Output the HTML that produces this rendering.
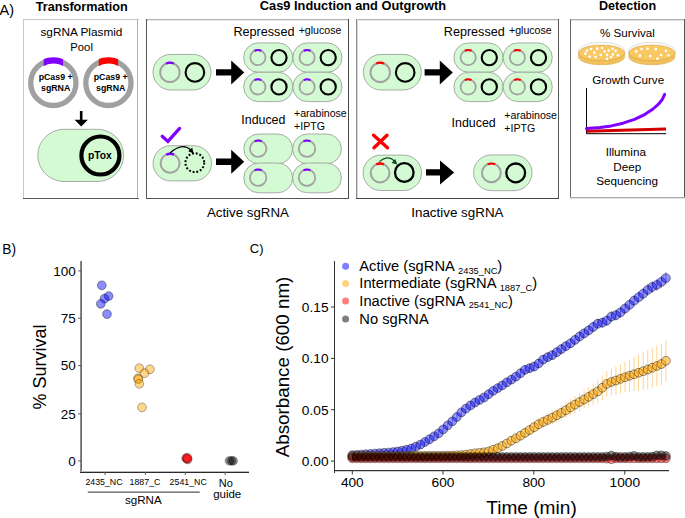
<!DOCTYPE html><html><head><meta charset="utf-8"><style>html,body{margin:0;padding:0;background:#fff;}svg{display:block;}</style></head><body><svg width="685" height="518" viewBox="0 0 685 518" font-family='"Liberation Sans", sans-serif'>
<rect x="0" y="0" width="685" height="518" fill="#fff"/>
<text x="-0.50" y="14.80" font-size="14.5" text-anchor="start" font-weight="normal" fill="#000" >A)</text>
<text x="81.70" y="10.50" font-size="12.65" text-anchor="middle" font-weight="bold" fill="#000" >Transformation</text>
<text x="353.00" y="9.60" font-size="12.8" text-anchor="middle" font-weight="bold" fill="#000" >Cas9 Induction and Outgrowth</text>
<text x="627.60" y="10.00" font-size="12.55" text-anchor="middle" font-weight="bold" fill="#000" >Detection</text>
<rect x="23" y="19" width="116" height="1" fill="#c8c8c8" shape-rendering="crispEdges"/>
<rect x="23" y="19" width="1" height="180" fill="#c8c8c8" shape-rendering="crispEdges"/>
<rect x="137" y="19" width="1" height="180" fill="#b0b0b0" shape-rendering="crispEdges"/>
<rect x="23" y="198" width="116" height="1" fill="#5a5a5a" shape-rendering="crispEdges"/>
<rect x="146" y="19" width="203" height="1" fill="#b4b4b4" shape-rendering="crispEdges"/>
<rect x="146" y="20" width="203" height="1" fill="#e8e8e8" shape-rendering="crispEdges"/>
<rect x="146" y="19" width="1" height="180" fill="#555" shape-rendering="crispEdges"/>
<rect x="348" y="19" width="1" height="180" fill="#454545" shape-rendering="crispEdges"/>
<rect x="146" y="198" width="203" height="1" fill="#555" shape-rendering="crispEdges"/>
<rect x="356" y="19" width="203" height="1" fill="#b4b4b4" shape-rendering="crispEdges"/>
<rect x="356" y="20" width="203" height="1" fill="#e8e8e8" shape-rendering="crispEdges"/>
<rect x="356" y="19" width="1" height="180" fill="#8a8a8a" shape-rendering="crispEdges"/>
<rect x="357" y="19" width="1" height="180" fill="#dcdcdc" shape-rendering="crispEdges"/>
<rect x="558" y="19" width="1" height="180" fill="#555" shape-rendering="crispEdges"/>
<rect x="356" y="198" width="203" height="1" fill="#454545" shape-rendering="crispEdges"/>
<rect x="570" y="19" width="115" height="1" fill="#b4b4b4" shape-rendering="crispEdges"/>
<rect x="570" y="20" width="115" height="1" fill="#dedede" shape-rendering="crispEdges"/>
<rect x="570" y="19" width="1" height="179" fill="#666" shape-rendering="crispEdges"/>
<rect x="684" y="19" width="1" height="179" fill="#555" shape-rendering="crispEdges"/>
<rect x="570" y="197" width="115" height="1" fill="#aaa" shape-rendering="crispEdges"/>
<rect x="570" y="198" width="115" height="1" fill="#e0e0e0" shape-rendering="crispEdges"/>
<text x="81.45" y="36.20" font-size="11.8" text-anchor="middle" font-weight="normal" fill="#000" >sgRNA Plasmid</text>
<text x="81.60" y="51.30" font-size="11.3" text-anchor="middle" font-weight="normal" fill="#000" >Pool</text>
<circle cx="53.35" cy="82.90" r="22.60" fill="none" stroke="#a0a0a0" stroke-width="5.3" />
<clipPath id="c53"><rect x="43.75" y="52.90" width="19.3" height="20"/></clipPath>
<circle cx="53.35" cy="82.90" r="22.5" fill="none" stroke="#7f00ff" stroke-width="6.4" clip-path="url(#c53)"/>
<text x="55.65" y="80.10" font-size="8.8" text-anchor="middle" font-weight="bold" fill="#000" >pCas9 +</text>
<text x="55.65" y="90.80" font-size="8.8" text-anchor="middle" font-weight="bold" fill="#000" >sgRNA</text>
<circle cx="108.40" cy="82.90" r="22.60" fill="none" stroke="#a0a0a0" stroke-width="5.3" />
<clipPath id="c108"><rect x="98.80" y="52.90" width="19.3" height="20"/></clipPath>
<circle cx="108.40" cy="82.90" r="22.5" fill="none" stroke="#ff0000" stroke-width="6.4" clip-path="url(#c108)"/>
<text x="110.70" y="80.10" font-size="8.8" text-anchor="middle" font-weight="bold" fill="#000" >pCas9 +</text>
<text x="110.70" y="90.80" font-size="8.8" text-anchor="middle" font-weight="bold" fill="#000" >sgRNA</text>
<path d="M79.9,111.1 L82.5,111.1 L82.5,119.7 L87.9,119.7 L81.2,126.6 L74.6,119.7 L79.9,119.7 Z" fill="#000"/>
<rect x="37.80" y="129.30" width="85.80" height="52.20" rx="26.10" ry="26.10" fill="#d4fad4" stroke="#8a8a8a" stroke-width="0.7"/>
<circle cx="100.40" cy="155.50" r="19.00" fill="none" stroke="#000" stroke-width="4.2" />
<text x="99.90" y="158.60" font-size="10.3" text-anchor="middle" font-weight="bold" fill="#000" >pTox</text>
<rect x="153.00" y="54.40" width="58.00" height="35.60" rx="17.80" ry="17.80" fill="#d4fad4" stroke="#8a8a8a" stroke-width="0.7"/>
<circle cx="169.90" cy="72.40" r="9.70" fill="none" stroke="#a2a2a2" stroke-width="2.0" />
<path d="M165.95,63.54 A9.70,9.70 0 0 1 173.85,63.54" fill="none" stroke="#7f00ff" stroke-width="2.1" stroke-linecap="butt"/>
<circle cx="194.90" cy="72.40" r="9.30" fill="none" stroke="#000" stroke-width="2.1" />
<path d="M216.00,69.20 L231.20,69.20 L231.20,60.40 L244.20,72.40 L231.20,84.40 L231.20,75.60 L216.00,75.60 Z" fill="#000"/>
<text x="233.50" y="35.50" font-size="12.6" text-anchor="start" font-weight="normal" fill="#000" >Repressed</text>
<text x="298.70" y="34.30" font-size="10.6" text-anchor="start" font-weight="normal" fill="#000" >+glucose</text>
<rect x="243.60" y="42.90" width="49.20" height="29.40" rx="14.70" ry="14.70" fill="#d4fad4" stroke="#8a8a8a" stroke-width="0.7"/>
<circle cx="257.90" cy="57.60" r="7.60" fill="none" stroke="#a2a2a2" stroke-width="1.8" />
<path d="M254.57,50.77 A7.60,7.60 0 0 1 261.23,50.77" fill="none" stroke="#7f00ff" stroke-width="2.1" stroke-linecap="butt"/>
<circle cx="279.00" cy="57.60" r="7.60" fill="none" stroke="#000" stroke-width="2.1" />
<rect x="292.80" y="42.90" width="49.20" height="29.40" rx="14.70" ry="14.70" fill="#d4fad4" stroke="#8a8a8a" stroke-width="0.7"/>
<circle cx="307.10" cy="57.60" r="7.60" fill="none" stroke="#a2a2a2" stroke-width="1.8" />
<path d="M303.77,50.77 A7.60,7.60 0 0 1 310.43,50.77" fill="none" stroke="#7f00ff" stroke-width="2.1" stroke-linecap="butt"/>
<circle cx="328.20" cy="57.60" r="7.60" fill="none" stroke="#000" stroke-width="2.1" />
<rect x="243.60" y="72.20" width="49.20" height="29.40" rx="14.70" ry="14.70" fill="#d4fad4" stroke="#8a8a8a" stroke-width="0.7"/>
<circle cx="257.90" cy="86.90" r="7.60" fill="none" stroke="#a2a2a2" stroke-width="1.8" />
<path d="M254.57,80.07 A7.60,7.60 0 0 1 261.23,80.07" fill="none" stroke="#7f00ff" stroke-width="2.1" stroke-linecap="butt"/>
<circle cx="279.00" cy="86.90" r="7.60" fill="none" stroke="#000" stroke-width="2.1" />
<rect x="292.80" y="72.20" width="49.20" height="29.40" rx="14.70" ry="14.70" fill="#d4fad4" stroke="#8a8a8a" stroke-width="0.7"/>
<circle cx="307.10" cy="86.90" r="7.60" fill="none" stroke="#a2a2a2" stroke-width="1.8" />
<path d="M303.77,80.07 A7.60,7.60 0 0 1 310.43,80.07" fill="none" stroke="#7f00ff" stroke-width="2.1" stroke-linecap="butt"/>
<circle cx="328.20" cy="86.90" r="7.60" fill="none" stroke="#000" stroke-width="2.1" />
<text x="241.30" y="124.00" font-size="12.4" text-anchor="start" font-weight="normal" fill="#000" >Induced</text>
<text x="294.00" y="117.00" font-size="10.6" text-anchor="start" font-weight="normal" fill="#000" >+arabinose</text>
<text x="294.00" y="130.20" font-size="10.6" text-anchor="start" font-weight="normal" fill="#000" >+IPTG</text>
<rect x="363.30" y="54.40" width="58.00" height="35.60" rx="17.80" ry="17.80" fill="#d4fad4" stroke="#8a8a8a" stroke-width="0.7"/>
<circle cx="380.20" cy="72.40" r="9.70" fill="none" stroke="#a2a2a2" stroke-width="2.0" />
<path d="M376.25,63.54 A9.70,9.70 0 0 1 384.15,63.54" fill="none" stroke="#ff0000" stroke-width="2.1" stroke-linecap="butt"/>
<circle cx="405.20" cy="72.40" r="9.30" fill="none" stroke="#000" stroke-width="2.1" />
<path d="M424.60,69.20 L439.80,69.20 L439.80,60.40 L452.80,72.40 L439.80,84.40 L439.80,75.60 L424.60,75.60 Z" fill="#000"/>
<text x="443.80" y="35.50" font-size="12.6" text-anchor="start" font-weight="normal" fill="#000" >Repressed</text>
<text x="509.00" y="34.30" font-size="10.6" text-anchor="start" font-weight="normal" fill="#000" >+glucose</text>
<rect x="453.90" y="42.90" width="49.20" height="29.40" rx="14.70" ry="14.70" fill="#d4fad4" stroke="#8a8a8a" stroke-width="0.7"/>
<circle cx="468.20" cy="57.60" r="7.60" fill="none" stroke="#a2a2a2" stroke-width="1.8" />
<path d="M464.87,50.77 A7.60,7.60 0 0 1 471.53,50.77" fill="none" stroke="#ff0000" stroke-width="2.1" stroke-linecap="butt"/>
<circle cx="489.30" cy="57.60" r="7.60" fill="none" stroke="#000" stroke-width="2.1" />
<rect x="503.10" y="42.90" width="49.20" height="29.40" rx="14.70" ry="14.70" fill="#d4fad4" stroke="#8a8a8a" stroke-width="0.7"/>
<circle cx="517.40" cy="57.60" r="7.60" fill="none" stroke="#a2a2a2" stroke-width="1.8" />
<path d="M514.07,50.77 A7.60,7.60 0 0 1 520.73,50.77" fill="none" stroke="#ff0000" stroke-width="2.1" stroke-linecap="butt"/>
<circle cx="538.50" cy="57.60" r="7.60" fill="none" stroke="#000" stroke-width="2.1" />
<rect x="453.90" y="72.20" width="49.20" height="29.40" rx="14.70" ry="14.70" fill="#d4fad4" stroke="#8a8a8a" stroke-width="0.7"/>
<circle cx="468.20" cy="86.90" r="7.60" fill="none" stroke="#a2a2a2" stroke-width="1.8" />
<path d="M464.87,80.07 A7.60,7.60 0 0 1 471.53,80.07" fill="none" stroke="#ff0000" stroke-width="2.1" stroke-linecap="butt"/>
<circle cx="489.30" cy="86.90" r="7.60" fill="none" stroke="#000" stroke-width="2.1" />
<rect x="503.10" y="72.20" width="49.20" height="29.40" rx="14.70" ry="14.70" fill="#d4fad4" stroke="#8a8a8a" stroke-width="0.7"/>
<circle cx="517.40" cy="86.90" r="7.60" fill="none" stroke="#a2a2a2" stroke-width="1.8" />
<path d="M514.07,80.07 A7.60,7.60 0 0 1 520.73,80.07" fill="none" stroke="#ff0000" stroke-width="2.1" stroke-linecap="butt"/>
<circle cx="538.50" cy="86.90" r="7.60" fill="none" stroke="#000" stroke-width="2.1" />
<text x="451.60" y="127.00" font-size="12.4" text-anchor="start" font-weight="normal" fill="#000" >Induced</text>
<text x="504.30" y="119.40" font-size="10.6" text-anchor="start" font-weight="normal" fill="#000" >+arabinose</text>
<text x="504.30" y="132.30" font-size="10.6" text-anchor="start" font-weight="normal" fill="#000" >+IPTG</text>
<rect x="153.10" y="145.70" width="58.40" height="35.20" rx="17.60" ry="17.60" fill="#d4fad4" stroke="#8a8a8a" stroke-width="0.7"/>
<circle cx="170.10" cy="163.30" r="9.50" fill="none" stroke="#a2a2a2" stroke-width="2.0" />
<path d="M166.24,154.62 A9.50,9.50 0 0 1 173.96,154.62" fill="none" stroke="#7f00ff" stroke-width="2.4" stroke-linecap="butt"/>
<circle cx="194.80" cy="162.70" r="9.40" fill="none" stroke="#000" stroke-width="2.0" stroke-dasharray="1.9 1.85"/>
<path d="M170.1,153.0 Q182.0,142.0 191.0,150.0" fill="none" stroke="#000" stroke-width="1.2"/>
<path d="M193.6,153.6 L188.3,151.2 L192.2,147.6 Z" fill="#000"/>
<path d="M162.2,136.3 L167.9,141.4 L179.6,128.4" fill="none" stroke="#7f00ff" stroke-width="3.2" stroke-linecap="round" stroke-linejoin="miter"/>
<path d="M216.00,158.60 L231.20,158.60 L231.20,149.80 L244.20,161.80 L231.20,173.80 L231.20,165.00 L216.00,165.00 Z" fill="#000"/>
<rect x="243.80" y="134.00" width="48.80" height="29.80" rx="14.90" ry="14.90" fill="#d4fad4" stroke="#8a8a8a" stroke-width="0.7"/>
<circle cx="258.20" cy="148.70" r="8.20" fill="none" stroke="#a2a2a2" stroke-width="1.8" />
<path d="M254.73,141.27 A8.20,8.20 0 0 1 261.67,141.27" fill="none" stroke="#7f00ff" stroke-width="2.1" stroke-linecap="butt"/>
<rect x="292.60" y="134.00" width="48.80" height="29.80" rx="14.90" ry="14.90" fill="#d4fad4" stroke="#8a8a8a" stroke-width="0.7"/>
<circle cx="307.00" cy="148.70" r="8.20" fill="none" stroke="#a2a2a2" stroke-width="1.8" />
<path d="M303.53,141.27 A8.20,8.20 0 0 1 310.47,141.27" fill="none" stroke="#7f00ff" stroke-width="2.1" stroke-linecap="butt"/>
<rect x="243.80" y="163.00" width="48.80" height="29.80" rx="14.90" ry="14.90" fill="#d4fad4" stroke="#8a8a8a" stroke-width="0.7"/>
<circle cx="258.20" cy="177.70" r="8.20" fill="none" stroke="#a2a2a2" stroke-width="1.8" />
<path d="M254.73,170.27 A8.20,8.20 0 0 1 261.67,170.27" fill="none" stroke="#7f00ff" stroke-width="2.1" stroke-linecap="butt"/>
<rect x="292.60" y="163.00" width="48.80" height="29.80" rx="14.90" ry="14.90" fill="#d4fad4" stroke="#8a8a8a" stroke-width="0.7"/>
<circle cx="307.00" cy="177.70" r="8.20" fill="none" stroke="#a2a2a2" stroke-width="1.8" />
<path d="M303.53,170.27 A8.20,8.20 0 0 1 310.47,170.27" fill="none" stroke="#7f00ff" stroke-width="2.1" stroke-linecap="butt"/>
<text x="247.90" y="216.60" font-size="13.3" text-anchor="middle" font-weight="normal" fill="#000" >Active sgRNA</text>
<rect x="363.10" y="155.10" width="58.40" height="35.40" rx="17.70" ry="17.70" fill="#d4fad4" stroke="#8a8a8a" stroke-width="0.7"/>
<circle cx="380.10" cy="173.00" r="9.40" fill="none" stroke="#a2a2a2" stroke-width="2.0" />
<path d="M376.28,164.41 A9.40,9.40 0 0 1 383.92,164.41" fill="none" stroke="#ff0000" stroke-width="2.4" stroke-linecap="butt"/>
<circle cx="404.30" cy="172.50" r="9.30" fill="none" stroke="#000" stroke-width="2.3" />
<path d="M379.4,161.6 Q388.0,154.5 394.5,161.0" fill="none" stroke="#0b4a1e" stroke-width="1.2"/>
<path d="M397.4,164.4 L391.6,163.0 L395.3,158.9 Z" fill="#0b4a1e"/>
<path d="M373.6,135.2 L387.5,147.8 M387.0,135.2 L374.0,147.8" fill="none" stroke="#ff0000" stroke-width="3.4" stroke-linecap="round"/>
<path d="M426.00,169.20 L440.00,169.20 L440.00,160.40 L454.20,172.40 L440.00,184.40 L440.00,175.60 L426.00,175.60 Z" fill="#000"/>
<rect x="473.60" y="154.90" width="58.40" height="35.80" rx="17.90" ry="17.90" fill="#d4fad4" stroke="#8a8a8a" stroke-width="0.7"/>
<circle cx="491.40" cy="172.90" r="9.40" fill="none" stroke="#a2a2a2" stroke-width="2.0" />
<path d="M487.58,164.31 A9.40,9.40 0 0 1 495.22,164.31" fill="none" stroke="#ff0000" stroke-width="2.1" stroke-linecap="butt"/>
<circle cx="515.70" cy="172.90" r="9.40" fill="none" stroke="#000" stroke-width="2.3" />
<text x="457.40" y="216.70" font-size="13.4" text-anchor="middle" font-weight="normal" fill="#000" >Inactive sgRNA</text>
<text x="627.40" y="36.70" font-size="11.6" text-anchor="middle" font-weight="normal" fill="#000" >% Survival</text>
<ellipse cx="601.50" cy="51.90" rx="23.60" ry="9.50" fill="none" stroke="#c8c8c8" stroke-width="0.6"/>
<path d="M578.50,52.90 L578.50,56.90 A23.00,7.90 0 0 0 624.50,56.90 L624.50,52.90 Z" fill="#f3c15c" stroke="#d4a24a" stroke-width="0.5"/>
<ellipse cx="601.50" cy="52.90" rx="23.00" ry="7.90" fill="#f9c862" stroke="#c99a45" stroke-width="0.5"/>
<circle cx="587.00" cy="50.70" r="1.35" fill="#fff"/>
<circle cx="591.10" cy="49.00" r="1.35" fill="#fff"/>
<circle cx="597.10" cy="48.70" r="1.35" fill="#fff"/>
<circle cx="602.10" cy="48.00" r="1.35" fill="#fff"/>
<circle cx="612.60" cy="48.70" r="1.35" fill="#fff"/>
<circle cx="615.60" cy="50.90" r="1.35" fill="#fff"/>
<circle cx="608.70" cy="50.60" r="1.35" fill="#fff"/>
<circle cx="604.60" cy="51.50" r="1.35" fill="#fff"/>
<circle cx="594.30" cy="52.70" r="1.35" fill="#fff"/>
<circle cx="585.30" cy="53.70" r="1.35" fill="#fff"/>
<circle cx="600.70" cy="54.90" r="1.35" fill="#fff"/>
<circle cx="607.10" cy="54.90" r="1.35" fill="#fff"/>
<circle cx="612.90" cy="54.30" r="1.35" fill="#fff"/>
<circle cx="618.00" cy="55.30" r="1.35" fill="#fff"/>
<circle cx="589.60" cy="56.50" r="1.35" fill="#fff"/>
<circle cx="595.60" cy="56.90" r="1.35" fill="#fff"/>
<circle cx="611.10" cy="57.10" r="1.35" fill="#fff"/>
<circle cx="607.10" cy="58.90" r="1.35" fill="#fff"/>
<ellipse cx="651.90" cy="51.90" rx="23.60" ry="9.50" fill="none" stroke="#c8c8c8" stroke-width="0.6"/>
<path d="M628.90,52.90 L628.90,56.90 A23.00,7.90 0 0 0 674.90,56.90 L674.90,52.90 Z" fill="#f3c15c" stroke="#d4a24a" stroke-width="0.5"/>
<ellipse cx="651.90" cy="52.90" rx="23.00" ry="7.90" fill="#f9c862" stroke="#c99a45" stroke-width="0.5"/>
<circle cx="636.20" cy="51.30" r="1.35" fill="#fff"/>
<circle cx="641.50" cy="49.00" r="1.35" fill="#fff"/>
<circle cx="647.50" cy="48.70" r="1.35" fill="#fff"/>
<circle cx="655.80" cy="49.20" r="1.35" fill="#fff"/>
<circle cx="666.00" cy="50.90" r="1.35" fill="#fff"/>
<circle cx="639.90" cy="55.70" r="1.35" fill="#fff"/>
<circle cx="650.30" cy="56.10" r="1.35" fill="#fff"/>
<circle cx="661.10" cy="55.00" r="1.35" fill="#fff"/>
<circle cx="668.40" cy="55.30" r="1.35" fill="#fff"/>
<circle cx="657.50" cy="58.70" r="1.35" fill="#fff"/>
<text x="628.20" y="84.00" font-size="11.66" text-anchor="middle" font-weight="normal" fill="#000" >Growth Curve</text>
<path d="M586.5,88.1 L586.5,133.7 L666.2,133.7" fill="none" stroke="#000" stroke-width="1.0"/>
<path d="M586.5,131.3 L666.0,129.1" fill="none" stroke="#d40000" stroke-width="3.0"/>
<path d="M586.5,128.6 L600,127.6 L611.3,125.9 L623,123.2 L634.5,119.4 L645,114.3 L653,109 L659,103.6 L662.3,99.5 L664.6,94.4" fill="none" stroke="#7f00ff" stroke-width="3.0" stroke-linecap="round" stroke-linejoin="round"/>
<text x="625.80" y="156.40" font-size="11.7" text-anchor="middle" font-weight="normal" fill="#000" >Illumina</text>
<text x="627.20" y="170.80" font-size="11.7" text-anchor="middle" font-weight="normal" fill="#000" >Deep</text>
<text x="627.20" y="185.40" font-size="11.7" text-anchor="middle" font-weight="normal" fill="#000" >Sequencing</text>
<text x="2.20" y="253.80" font-size="13.8" text-anchor="start" font-weight="normal" fill="#000" >B)</text>
<rect x="80" y="261" width="1" height="212" fill="#8c8c8c" shape-rendering="crispEdges"/>
<rect x="81" y="261" width="1" height="212" fill="#6a6a6a" shape-rendering="crispEdges"/>
<rect x="81" y="471" width="168" height="1" fill="#b8b8b8" shape-rendering="crispEdges"/>
<rect x="80" y="472" width="169" height="1" fill="#2a2a2a" shape-rendering="crispEdges"/>
<path d="M78.2,270.90 L81.1,270.90" stroke="#555" stroke-width="1"/>
<text x="75.70" y="275.60" font-size="13.5" text-anchor="end" font-weight="normal" fill="#000" >100</text>
<path d="M78.2,318.20 L81.1,318.20" stroke="#555" stroke-width="1"/>
<text x="75.70" y="322.90" font-size="13.5" text-anchor="end" font-weight="normal" fill="#000" >75</text>
<path d="M78.2,365.70 L81.1,365.70" stroke="#555" stroke-width="1"/>
<text x="75.70" y="370.40" font-size="13.5" text-anchor="end" font-weight="normal" fill="#000" >50</text>
<path d="M78.2,413.90 L81.1,413.90" stroke="#555" stroke-width="1"/>
<text x="75.70" y="418.60" font-size="13.5" text-anchor="end" font-weight="normal" fill="#000" >25</text>
<path d="M78.2,460.90 L81.1,460.90" stroke="#555" stroke-width="1"/>
<text x="75.70" y="465.60" font-size="13.5" text-anchor="end" font-weight="normal" fill="#000" >0</text>
<path d="M105.10,472.0 L105.10,475.0" stroke="#555" stroke-width="1"/>
<path d="M145.40,472.0 L145.40,475.0" stroke="#555" stroke-width="1"/>
<path d="M185.30,472.0 L185.30,475.0" stroke="#555" stroke-width="1"/>
<path d="M225.10,472.0 L225.10,475.0" stroke="#555" stroke-width="1"/>
<text x="104.00" y="485.20" font-size="8.8" text-anchor="middle" font-weight="normal" fill="#000" >2435_NC</text>
<text x="145.00" y="485.20" font-size="8.8" text-anchor="middle" font-weight="normal" fill="#000" >1887_C</text>
<text x="188.20" y="485.20" font-size="8.8" text-anchor="middle" font-weight="normal" fill="#000" >2541_NC</text>
<text x="225.80" y="486.70" font-size="11.0" text-anchor="middle" font-weight="normal" fill="#000" >No</text>
<text x="227.20" y="498.00" font-size="11.5" text-anchor="middle" font-weight="normal" fill="#000" >guide</text>
<path d="M87.8,492.2 L199.7,492.2" stroke="#555" stroke-width="1.3"/>
<text x="143.30" y="504.10" font-size="11.6" text-anchor="middle" font-weight="normal" fill="#000" >sgRNA</text>
<text x="46.4" y="366.9" font-size="18" text-anchor="middle" transform="rotate(-90 46.4 366.9)">% Survival</text>
<circle cx="101.80" cy="285.30" r="4.4" fill="#0000ff" fill-opacity="0.45" stroke="#000" stroke-opacity="0.55" stroke-width="0.7"/>
<circle cx="108.60" cy="296.10" r="4.4" fill="#0000ff" fill-opacity="0.45" stroke="#000" stroke-opacity="0.55" stroke-width="0.7"/>
<circle cx="104.50" cy="298.60" r="4.4" fill="#0000ff" fill-opacity="0.45" stroke="#000" stroke-opacity="0.55" stroke-width="0.7"/>
<circle cx="100.80" cy="303.80" r="4.4" fill="#0000ff" fill-opacity="0.45" stroke="#000" stroke-opacity="0.55" stroke-width="0.7"/>
<circle cx="107.00" cy="314.10" r="4.4" fill="#0000ff" fill-opacity="0.45" stroke="#000" stroke-opacity="0.55" stroke-width="0.7"/>
<circle cx="139.30" cy="368.20" r="4.4" fill="#ffa500" fill-opacity="0.45" stroke="#000" stroke-opacity="0.45" stroke-width="0.7"/>
<circle cx="149.90" cy="369.30" r="4.4" fill="#ffa500" fill-opacity="0.45" stroke="#000" stroke-opacity="0.45" stroke-width="0.7"/>
<circle cx="144.50" cy="373.20" r="4.4" fill="#ffa500" fill-opacity="0.45" stroke="#000" stroke-opacity="0.45" stroke-width="0.7"/>
<circle cx="138.00" cy="378.40" r="4.4" fill="#ffa500" fill-opacity="0.45" stroke="#000" stroke-opacity="0.45" stroke-width="0.7"/>
<circle cx="138.40" cy="379.20" r="4.4" fill="#ffa500" fill-opacity="0.45" stroke="#000" stroke-opacity="0.45" stroke-width="0.7"/>
<circle cx="139.30" cy="383.80" r="4.4" fill="#ffa500" fill-opacity="0.45" stroke="#000" stroke-opacity="0.45" stroke-width="0.7"/>
<circle cx="142.00" cy="407.40" r="4.4" fill="#ffa500" fill-opacity="0.45" stroke="#000" stroke-opacity="0.45" stroke-width="0.7"/>
<circle cx="186.10" cy="458.10" r="4.4" fill="#ff0000" fill-opacity="0.42" stroke="#000" stroke-opacity="0.45" stroke-width="0.7"/>
<circle cx="187.70" cy="459.40" r="4.4" fill="#ff0000" fill-opacity="0.42" stroke="#000" stroke-opacity="0.45" stroke-width="0.7"/>
<circle cx="186.90" cy="458.70" r="4.4" fill="#ff0000" fill-opacity="0.42" stroke="#000" stroke-opacity="0.45" stroke-width="0.7"/>
<circle cx="187.40" cy="457.80" r="4.4" fill="#ff0000" fill-opacity="0.42" stroke="#000" stroke-opacity="0.45" stroke-width="0.7"/>
<circle cx="229.40" cy="460.80" r="4.4" fill="#000" fill-opacity="0.42" stroke="#000" stroke-opacity="0.3" stroke-width="0.7"/>
<circle cx="231.60" cy="460.80" r="4.4" fill="#000" fill-opacity="0.42" stroke="#000" stroke-opacity="0.3" stroke-width="0.7"/>
<circle cx="233.20" cy="460.90" r="4.4" fill="#000" fill-opacity="0.42" stroke="#000" stroke-opacity="0.3" stroke-width="0.7"/>
<text x="249.80" y="253.00" font-size="13.0" text-anchor="start" font-weight="normal" fill="#000" >C)</text>
<rect x="334" y="261" width="1" height="212" fill="#333" shape-rendering="crispEdges"/>
<rect x="334" y="470" width="335" height="1" fill="#333" shape-rendering="crispEdges"/>
<rect x="335" y="471" width="334" height="1" fill="#d0d0d0" shape-rendering="crispEdges"/>
<path d="M331.0,461.10 L334.3,461.10" stroke="#333" stroke-width="1"/>
<text x="328.50" y="465.90" font-size="13.7" text-anchor="end" font-weight="normal" fill="#000" >0.00</text>
<path d="M331.0,409.70 L334.3,409.70" stroke="#333" stroke-width="1"/>
<text x="328.50" y="414.50" font-size="13.7" text-anchor="end" font-weight="normal" fill="#000" >0.05</text>
<path d="M331.0,358.40 L334.3,358.40" stroke="#333" stroke-width="1"/>
<text x="328.50" y="363.20" font-size="13.7" text-anchor="end" font-weight="normal" fill="#000" >0.10</text>
<path d="M331.0,307.00 L334.3,307.00" stroke="#333" stroke-width="1"/>
<text x="328.50" y="311.80" font-size="13.7" text-anchor="end" font-weight="normal" fill="#000" >0.15</text>
<path d="M352.30,470.7 L352.30,474.5" stroke="#333" stroke-width="1"/>
<text x="352.30" y="486.80" font-size="13.7" text-anchor="middle" font-weight="normal" fill="#000" >400</text>
<path d="M443.00,470.7 L443.00,474.5" stroke="#333" stroke-width="1"/>
<text x="443.00" y="486.80" font-size="13.7" text-anchor="middle" font-weight="normal" fill="#000" >600</text>
<path d="M533.80,470.7 L533.80,474.5" stroke="#333" stroke-width="1"/>
<text x="533.80" y="486.80" font-size="13.7" text-anchor="middle" font-weight="normal" fill="#000" >800</text>
<path d="M624.80,470.7 L624.80,474.5" stroke="#333" stroke-width="1"/>
<text x="624.80" y="486.80" font-size="13.7" text-anchor="middle" font-weight="normal" fill="#000" >1000</text>
<text x="289.2" y="367.0" font-size="18.8" text-anchor="middle" transform="rotate(-90 289.2 367.0)">Absorbance (600 nm)</text>
<text x="531.50" y="514.00" font-size="19.1" text-anchor="middle" font-weight="normal" fill="#000" >Time (min)</text>
<circle cx="345.6" cy="266.20" r="3.5" fill="#7f7fff"/>
<text x="359.3" y="271.10" font-size="14.7">Active (sgRNA <tspan font-size="9.3" dy="2.6">2435_NC</tspan><tspan dy="-2.6">)</tspan></text>
<circle cx="345.6" cy="283.50" r="3.5" fill="#ffd27f"/>
<text x="359.3" y="288.40" font-size="14.7">Intermediate (sgRNA <tspan font-size="9.3" dy="2.6">1887_C</tspan><tspan dy="-2.6">)</tspan></text>
<circle cx="345.6" cy="300.90" r="3.5" fill="#ff7f7f"/>
<text x="359.3" y="305.80" font-size="14.7">Inactive (sgRNA <tspan font-size="9.3" dy="2.6">2541_NC</tspan><tspan dy="-2.6">)</tspan></text>
<circle cx="345.6" cy="319.00" r="3.5" fill="#7f7f7f"/>
<text x="359.3" y="323.90" font-size="14.7">No sgRNA</text>
<path d="M352.30,453.20 L352.30,457.20" stroke="#9a9aff" stroke-width="1.0"/>
<path d="M356.85,452.82 L356.85,456.95" stroke="#9a9aff" stroke-width="1.0"/>
<path d="M361.39,452.45 L361.39,456.71" stroke="#9a9aff" stroke-width="1.0"/>
<path d="M365.94,452.08 L365.94,456.46" stroke="#9a9aff" stroke-width="1.0"/>
<path d="M370.48,451.69 L370.48,456.19" stroke="#9a9aff" stroke-width="1.0"/>
<path d="M375.03,451.28 L375.03,455.90" stroke="#9a9aff" stroke-width="1.0"/>
<path d="M379.57,450.86 L379.57,455.61" stroke="#9a9aff" stroke-width="1.0"/>
<path d="M384.12,450.45 L384.12,455.32" stroke="#9a9aff" stroke-width="1.0"/>
<path d="M388.66,450.04 L388.66,455.03" stroke="#9a9aff" stroke-width="1.0"/>
<path d="M393.21,449.52 L393.21,454.63" stroke="#9a9aff" stroke-width="1.0"/>
<path d="M397.75,448.78 L397.75,454.02" stroke="#9a9aff" stroke-width="1.0"/>
<path d="M402.30,448.04 L402.30,453.40" stroke="#9a9aff" stroke-width="1.0"/>
<path d="M406.84,446.96 L406.84,452.44" stroke="#9a9aff" stroke-width="1.0"/>
<path d="M411.38,445.69 L411.38,451.30" stroke="#9a9aff" stroke-width="1.0"/>
<path d="M415.93,443.78 L415.93,449.50" stroke="#9a9aff" stroke-width="1.0"/>
<path d="M420.48,441.65 L420.48,447.50" stroke="#9a9aff" stroke-width="1.0"/>
<path d="M425.02,438.99 L425.02,444.96" stroke="#9a9aff" stroke-width="1.0"/>
<path d="M429.56,436.21 L429.56,442.31" stroke="#9a9aff" stroke-width="1.0"/>
<path d="M434.11,433.23 L434.11,439.45" stroke="#9a9aff" stroke-width="1.0"/>
<path d="M438.66,430.22 L438.66,436.56" stroke="#9a9aff" stroke-width="1.0"/>
<path d="M443.20,426.17 L443.20,432.63" stroke="#9a9aff" stroke-width="1.0"/>
<path d="M447.75,422.08 L447.75,428.66" stroke="#9a9aff" stroke-width="1.0"/>
<path d="M452.29,417.99 L452.29,424.70" stroke="#9a9aff" stroke-width="1.0"/>
<path d="M456.84,413.59 L456.84,420.42" stroke="#9a9aff" stroke-width="1.0"/>
<path d="M461.38,408.85 L461.38,415.81" stroke="#9a9aff" stroke-width="1.0"/>
<path d="M465.93,405.04 L465.93,412.11" stroke="#9a9aff" stroke-width="1.0"/>
<path d="M470.47,401.81 L470.47,409.01" stroke="#9a9aff" stroke-width="1.0"/>
<path d="M475.01,398.86 L475.01,406.18" stroke="#9a9aff" stroke-width="1.0"/>
<path d="M479.56,396.22 L479.56,403.66" stroke="#9a9aff" stroke-width="1.0"/>
<path d="M484.11,393.70 L484.11,401.27" stroke="#9a9aff" stroke-width="1.0"/>
<path d="M488.65,390.42 L488.65,398.11" stroke="#9a9aff" stroke-width="1.0"/>
<path d="M493.20,386.95 L493.20,394.76" stroke="#9a9aff" stroke-width="1.0"/>
<path d="M497.74,384.10 L497.74,392.04" stroke="#9a9aff" stroke-width="1.0"/>
<path d="M502.28,381.36 L502.28,389.41" stroke="#9a9aff" stroke-width="1.0"/>
<path d="M506.83,378.27 L506.83,386.45" stroke="#9a9aff" stroke-width="1.0"/>
<path d="M511.38,375.46 L511.38,383.76" stroke="#9a9aff" stroke-width="1.0"/>
<path d="M515.92,372.48 L515.92,380.90" stroke="#9a9aff" stroke-width="1.0"/>
<path d="M520.47,368.97 L520.47,377.51" stroke="#9a9aff" stroke-width="1.0"/>
<path d="M525.01,365.46 L525.01,374.13" stroke="#9a9aff" stroke-width="1.0"/>
<path d="M529.56,363.79 L529.56,372.58" stroke="#9a9aff" stroke-width="1.0"/>
<path d="M534.10,362.11 L534.10,371.03" stroke="#9a9aff" stroke-width="1.0"/>
<path d="M538.64,358.98 L538.64,368.01" stroke="#9a9aff" stroke-width="1.0"/>
<path d="M543.19,355.05 L543.19,364.21" stroke="#9a9aff" stroke-width="1.0"/>
<path d="M547.74,352.48 L547.74,361.76" stroke="#9a9aff" stroke-width="1.0"/>
<path d="M552.28,350.40 L552.28,359.81" stroke="#9a9aff" stroke-width="1.0"/>
<path d="M556.83,347.43 L556.83,356.97" stroke="#9a9aff" stroke-width="1.0"/>
<path d="M561.37,344.24 L561.37,353.89" stroke="#9a9aff" stroke-width="1.0"/>
<path d="M565.91,341.27 L565.91,351.05" stroke="#9a9aff" stroke-width="1.0"/>
<path d="M570.46,338.34 L570.46,348.23" stroke="#9a9aff" stroke-width="1.0"/>
<path d="M575.00,334.89 L575.00,344.91" stroke="#9a9aff" stroke-width="1.0"/>
<path d="M579.55,331.36 L579.55,341.51" stroke="#9a9aff" stroke-width="1.0"/>
<path d="M584.10,328.27 L584.10,338.54" stroke="#9a9aff" stroke-width="1.0"/>
<path d="M588.64,325.18 L588.64,335.57" stroke="#9a9aff" stroke-width="1.0"/>
<path d="M593.18,321.73 L593.18,332.24" stroke="#9a9aff" stroke-width="1.0"/>
<path d="M597.73,318.41 L597.73,329.04" stroke="#9a9aff" stroke-width="1.0"/>
<path d="M602.27,317.29 L602.27,328.05" stroke="#9a9aff" stroke-width="1.0"/>
<path d="M606.82,315.15 L606.82,326.03" stroke="#9a9aff" stroke-width="1.0"/>
<path d="M611.37,311.03 L611.37,322.03" stroke="#9a9aff" stroke-width="1.0"/>
<path d="M615.91,309.65 L615.91,320.77" stroke="#9a9aff" stroke-width="1.0"/>
<path d="M620.45,306.82 L620.45,318.07" stroke="#9a9aff" stroke-width="1.0"/>
<path d="M625.00,302.85 L625.00,314.22" stroke="#9a9aff" stroke-width="1.0"/>
<path d="M629.55,299.05 L629.55,310.54" stroke="#9a9aff" stroke-width="1.0"/>
<path d="M634.09,294.87 L634.09,306.49" stroke="#9a9aff" stroke-width="1.0"/>
<path d="M638.63,291.33 L638.63,303.07" stroke="#9a9aff" stroke-width="1.0"/>
<path d="M643.18,287.81 L643.18,299.67" stroke="#9a9aff" stroke-width="1.0"/>
<path d="M647.73,283.91 L647.73,295.89" stroke="#9a9aff" stroke-width="1.0"/>
<path d="M652.27,280.93 L652.27,293.04" stroke="#9a9aff" stroke-width="1.0"/>
<path d="M656.82,278.76 L656.82,290.99" stroke="#9a9aff" stroke-width="1.0"/>
<path d="M661.36,275.74 L661.36,288.10" stroke="#9a9aff" stroke-width="1.0"/>
<path d="M665.90,271.92 L665.90,284.40" stroke="#9a9aff" stroke-width="1.0"/>
<circle cx="352.30" cy="455.20" r="4.4" fill="#0000ff" fill-opacity="0.42" stroke="#000" stroke-opacity="0.6" stroke-width="0.75"/>
<circle cx="356.85" cy="454.89" r="4.4" fill="#0000ff" fill-opacity="0.42" stroke="#000" stroke-opacity="0.6" stroke-width="0.75"/>
<circle cx="361.39" cy="454.58" r="4.4" fill="#0000ff" fill-opacity="0.42" stroke="#000" stroke-opacity="0.6" stroke-width="0.75"/>
<circle cx="365.94" cy="454.27" r="4.4" fill="#0000ff" fill-opacity="0.42" stroke="#000" stroke-opacity="0.6" stroke-width="0.75"/>
<circle cx="370.48" cy="453.94" r="4.4" fill="#0000ff" fill-opacity="0.42" stroke="#000" stroke-opacity="0.6" stroke-width="0.75"/>
<circle cx="375.03" cy="453.59" r="4.4" fill="#0000ff" fill-opacity="0.42" stroke="#000" stroke-opacity="0.6" stroke-width="0.75"/>
<circle cx="379.57" cy="453.24" r="4.4" fill="#0000ff" fill-opacity="0.42" stroke="#000" stroke-opacity="0.6" stroke-width="0.75"/>
<circle cx="384.12" cy="452.89" r="4.4" fill="#0000ff" fill-opacity="0.42" stroke="#000" stroke-opacity="0.6" stroke-width="0.75"/>
<circle cx="388.66" cy="452.53" r="4.4" fill="#0000ff" fill-opacity="0.42" stroke="#000" stroke-opacity="0.6" stroke-width="0.75"/>
<circle cx="393.21" cy="452.08" r="4.4" fill="#0000ff" fill-opacity="0.42" stroke="#000" stroke-opacity="0.6" stroke-width="0.75"/>
<circle cx="397.75" cy="451.40" r="4.4" fill="#0000ff" fill-opacity="0.42" stroke="#000" stroke-opacity="0.6" stroke-width="0.75"/>
<circle cx="402.30" cy="450.72" r="4.4" fill="#0000ff" fill-opacity="0.42" stroke="#000" stroke-opacity="0.6" stroke-width="0.75"/>
<circle cx="406.84" cy="449.70" r="4.4" fill="#0000ff" fill-opacity="0.42" stroke="#000" stroke-opacity="0.6" stroke-width="0.75"/>
<circle cx="411.38" cy="448.49" r="4.4" fill="#0000ff" fill-opacity="0.42" stroke="#000" stroke-opacity="0.6" stroke-width="0.75"/>
<circle cx="415.93" cy="446.64" r="4.4" fill="#0000ff" fill-opacity="0.42" stroke="#000" stroke-opacity="0.6" stroke-width="0.75"/>
<circle cx="420.48" cy="444.57" r="4.4" fill="#0000ff" fill-opacity="0.42" stroke="#000" stroke-opacity="0.6" stroke-width="0.75"/>
<circle cx="425.02" cy="441.98" r="4.4" fill="#0000ff" fill-opacity="0.42" stroke="#000" stroke-opacity="0.6" stroke-width="0.75"/>
<circle cx="429.56" cy="439.26" r="4.4" fill="#0000ff" fill-opacity="0.42" stroke="#000" stroke-opacity="0.6" stroke-width="0.75"/>
<circle cx="434.11" cy="436.34" r="4.4" fill="#0000ff" fill-opacity="0.42" stroke="#000" stroke-opacity="0.6" stroke-width="0.75"/>
<circle cx="438.66" cy="433.39" r="4.4" fill="#0000ff" fill-opacity="0.42" stroke="#000" stroke-opacity="0.6" stroke-width="0.75"/>
<circle cx="443.20" cy="429.40" r="4.4" fill="#0000ff" fill-opacity="0.42" stroke="#000" stroke-opacity="0.6" stroke-width="0.75"/>
<circle cx="447.75" cy="425.37" r="4.4" fill="#0000ff" fill-opacity="0.42" stroke="#000" stroke-opacity="0.6" stroke-width="0.75"/>
<circle cx="452.29" cy="421.35" r="4.4" fill="#0000ff" fill-opacity="0.42" stroke="#000" stroke-opacity="0.6" stroke-width="0.75"/>
<circle cx="456.84" cy="417.00" r="4.4" fill="#0000ff" fill-opacity="0.42" stroke="#000" stroke-opacity="0.6" stroke-width="0.75"/>
<circle cx="461.38" cy="412.33" r="4.4" fill="#0000ff" fill-opacity="0.42" stroke="#000" stroke-opacity="0.6" stroke-width="0.75"/>
<circle cx="465.93" cy="408.58" r="4.4" fill="#0000ff" fill-opacity="0.42" stroke="#000" stroke-opacity="0.6" stroke-width="0.75"/>
<circle cx="470.47" cy="405.41" r="4.4" fill="#0000ff" fill-opacity="0.42" stroke="#000" stroke-opacity="0.6" stroke-width="0.75"/>
<circle cx="475.01" cy="402.52" r="4.4" fill="#0000ff" fill-opacity="0.42" stroke="#000" stroke-opacity="0.6" stroke-width="0.75"/>
<circle cx="479.56" cy="399.94" r="4.4" fill="#0000ff" fill-opacity="0.42" stroke="#000" stroke-opacity="0.6" stroke-width="0.75"/>
<circle cx="484.11" cy="397.48" r="4.4" fill="#0000ff" fill-opacity="0.42" stroke="#000" stroke-opacity="0.6" stroke-width="0.75"/>
<circle cx="488.65" cy="394.26" r="4.4" fill="#0000ff" fill-opacity="0.42" stroke="#000" stroke-opacity="0.6" stroke-width="0.75"/>
<circle cx="493.20" cy="390.85" r="4.4" fill="#0000ff" fill-opacity="0.42" stroke="#000" stroke-opacity="0.6" stroke-width="0.75"/>
<circle cx="497.74" cy="388.07" r="4.4" fill="#0000ff" fill-opacity="0.42" stroke="#000" stroke-opacity="0.6" stroke-width="0.75"/>
<circle cx="502.28" cy="385.39" r="4.4" fill="#0000ff" fill-opacity="0.42" stroke="#000" stroke-opacity="0.6" stroke-width="0.75"/>
<circle cx="506.83" cy="382.36" r="4.4" fill="#0000ff" fill-opacity="0.42" stroke="#000" stroke-opacity="0.6" stroke-width="0.75"/>
<circle cx="511.38" cy="379.61" r="4.4" fill="#0000ff" fill-opacity="0.42" stroke="#000" stroke-opacity="0.6" stroke-width="0.75"/>
<circle cx="515.92" cy="376.69" r="4.4" fill="#0000ff" fill-opacity="0.42" stroke="#000" stroke-opacity="0.6" stroke-width="0.75"/>
<circle cx="520.47" cy="373.24" r="4.4" fill="#0000ff" fill-opacity="0.42" stroke="#000" stroke-opacity="0.6" stroke-width="0.75"/>
<circle cx="525.01" cy="369.80" r="4.4" fill="#0000ff" fill-opacity="0.42" stroke="#000" stroke-opacity="0.6" stroke-width="0.75"/>
<circle cx="529.56" cy="368.18" r="4.4" fill="#0000ff" fill-opacity="0.42" stroke="#000" stroke-opacity="0.6" stroke-width="0.75"/>
<circle cx="534.10" cy="366.57" r="4.4" fill="#0000ff" fill-opacity="0.42" stroke="#000" stroke-opacity="0.6" stroke-width="0.75"/>
<circle cx="538.64" cy="363.50" r="4.4" fill="#0000ff" fill-opacity="0.42" stroke="#000" stroke-opacity="0.6" stroke-width="0.75"/>
<circle cx="543.19" cy="359.63" r="4.4" fill="#0000ff" fill-opacity="0.42" stroke="#000" stroke-opacity="0.6" stroke-width="0.75"/>
<circle cx="547.74" cy="357.12" r="4.4" fill="#0000ff" fill-opacity="0.42" stroke="#000" stroke-opacity="0.6" stroke-width="0.75"/>
<circle cx="552.28" cy="355.11" r="4.4" fill="#0000ff" fill-opacity="0.42" stroke="#000" stroke-opacity="0.6" stroke-width="0.75"/>
<circle cx="556.83" cy="352.20" r="4.4" fill="#0000ff" fill-opacity="0.42" stroke="#000" stroke-opacity="0.6" stroke-width="0.75"/>
<circle cx="561.37" cy="349.07" r="4.4" fill="#0000ff" fill-opacity="0.42" stroke="#000" stroke-opacity="0.6" stroke-width="0.75"/>
<circle cx="565.91" cy="346.16" r="4.4" fill="#0000ff" fill-opacity="0.42" stroke="#000" stroke-opacity="0.6" stroke-width="0.75"/>
<circle cx="570.46" cy="343.28" r="4.4" fill="#0000ff" fill-opacity="0.42" stroke="#000" stroke-opacity="0.6" stroke-width="0.75"/>
<circle cx="575.00" cy="339.90" r="4.4" fill="#0000ff" fill-opacity="0.42" stroke="#000" stroke-opacity="0.6" stroke-width="0.75"/>
<circle cx="579.55" cy="336.43" r="4.4" fill="#0000ff" fill-opacity="0.42" stroke="#000" stroke-opacity="0.6" stroke-width="0.75"/>
<circle cx="584.10" cy="333.40" r="4.4" fill="#0000ff" fill-opacity="0.42" stroke="#000" stroke-opacity="0.6" stroke-width="0.75"/>
<circle cx="588.64" cy="330.37" r="4.4" fill="#0000ff" fill-opacity="0.42" stroke="#000" stroke-opacity="0.6" stroke-width="0.75"/>
<circle cx="593.18" cy="326.99" r="4.4" fill="#0000ff" fill-opacity="0.42" stroke="#000" stroke-opacity="0.6" stroke-width="0.75"/>
<circle cx="597.73" cy="323.72" r="4.4" fill="#0000ff" fill-opacity="0.42" stroke="#000" stroke-opacity="0.6" stroke-width="0.75"/>
<circle cx="602.27" cy="322.67" r="4.4" fill="#0000ff" fill-opacity="0.42" stroke="#000" stroke-opacity="0.6" stroke-width="0.75"/>
<circle cx="606.82" cy="320.59" r="4.4" fill="#0000ff" fill-opacity="0.42" stroke="#000" stroke-opacity="0.6" stroke-width="0.75"/>
<circle cx="611.37" cy="316.53" r="4.4" fill="#0000ff" fill-opacity="0.42" stroke="#000" stroke-opacity="0.6" stroke-width="0.75"/>
<circle cx="615.91" cy="315.21" r="4.4" fill="#0000ff" fill-opacity="0.42" stroke="#000" stroke-opacity="0.6" stroke-width="0.75"/>
<circle cx="620.45" cy="312.45" r="4.4" fill="#0000ff" fill-opacity="0.42" stroke="#000" stroke-opacity="0.6" stroke-width="0.75"/>
<circle cx="625.00" cy="308.54" r="4.4" fill="#0000ff" fill-opacity="0.42" stroke="#000" stroke-opacity="0.6" stroke-width="0.75"/>
<circle cx="629.55" cy="304.79" r="4.4" fill="#0000ff" fill-opacity="0.42" stroke="#000" stroke-opacity="0.6" stroke-width="0.75"/>
<circle cx="634.09" cy="300.68" r="4.4" fill="#0000ff" fill-opacity="0.42" stroke="#000" stroke-opacity="0.6" stroke-width="0.75"/>
<circle cx="638.63" cy="297.20" r="4.4" fill="#0000ff" fill-opacity="0.42" stroke="#000" stroke-opacity="0.6" stroke-width="0.75"/>
<circle cx="643.18" cy="293.74" r="4.4" fill="#0000ff" fill-opacity="0.42" stroke="#000" stroke-opacity="0.6" stroke-width="0.75"/>
<circle cx="647.73" cy="289.90" r="4.4" fill="#0000ff" fill-opacity="0.42" stroke="#000" stroke-opacity="0.6" stroke-width="0.75"/>
<circle cx="652.27" cy="286.98" r="4.4" fill="#0000ff" fill-opacity="0.42" stroke="#000" stroke-opacity="0.6" stroke-width="0.75"/>
<circle cx="656.82" cy="284.88" r="4.4" fill="#0000ff" fill-opacity="0.42" stroke="#000" stroke-opacity="0.6" stroke-width="0.75"/>
<circle cx="661.36" cy="281.92" r="4.4" fill="#0000ff" fill-opacity="0.42" stroke="#000" stroke-opacity="0.6" stroke-width="0.75"/>
<circle cx="665.90" cy="278.16" r="4.4" fill="#0000ff" fill-opacity="0.42" stroke="#000" stroke-opacity="0.6" stroke-width="0.75"/>
<path d="M506.83,443.02 L506.83,443.88" stroke="#ffd48f" stroke-width="1.0"/>
<path d="M511.38,439.23 L511.38,442.20" stroke="#ffd48f" stroke-width="1.0"/>
<path d="M515.92,435.72 L515.92,440.82" stroke="#ffd48f" stroke-width="1.0"/>
<path d="M520.47,432.15 L520.47,439.32" stroke="#ffd48f" stroke-width="1.0"/>
<path d="M525.01,428.51 L525.01,437.30" stroke="#ffd48f" stroke-width="1.0"/>
<path d="M529.56,424.86 L529.56,435.27" stroke="#ffd48f" stroke-width="1.0"/>
<path d="M534.10,421.16 L534.10,433.17" stroke="#ffd48f" stroke-width="1.0"/>
<path d="M538.64,418.01 L538.64,430.52" stroke="#ffd48f" stroke-width="1.0"/>
<path d="M543.19,415.42 L543.19,428.44" stroke="#ffd48f" stroke-width="1.0"/>
<path d="M547.74,413.07 L547.74,426.59" stroke="#ffd48f" stroke-width="1.0"/>
<path d="M552.28,410.68 L552.28,424.71" stroke="#ffd48f" stroke-width="1.0"/>
<path d="M556.83,408.02 L556.83,422.55" stroke="#ffd48f" stroke-width="1.0"/>
<path d="M561.37,405.35 L561.37,420.40" stroke="#ffd48f" stroke-width="1.0"/>
<path d="M565.91,402.37 L565.91,418.10" stroke="#ffd48f" stroke-width="1.0"/>
<path d="M570.46,399.22 L570.46,415.62" stroke="#ffd48f" stroke-width="1.0"/>
<path d="M575.00,396.06 L575.00,413.13" stroke="#ffd48f" stroke-width="1.0"/>
<path d="M579.55,393.16 L579.55,410.91" stroke="#ffd48f" stroke-width="1.0"/>
<path d="M584.10,390.26 L584.10,408.68" stroke="#ffd48f" stroke-width="1.0"/>
<path d="M588.64,387.21 L588.64,406.47" stroke="#ffd48f" stroke-width="1.0"/>
<path d="M593.18,383.54 L593.18,404.70" stroke="#ffd48f" stroke-width="1.0"/>
<path d="M597.73,379.87 L597.73,402.93" stroke="#ffd48f" stroke-width="1.0"/>
<path d="M602.27,375.47 L602.27,400.03" stroke="#ffd48f" stroke-width="1.0"/>
<path d="M606.82,371.09 L606.82,396.79" stroke="#ffd48f" stroke-width="1.0"/>
<path d="M611.37,368.57 L611.37,395.41" stroke="#ffd48f" stroke-width="1.0"/>
<path d="M615.91,366.51 L615.91,394.49" stroke="#ffd48f" stroke-width="1.0"/>
<path d="M620.45,364.20 L620.45,393.47" stroke="#ffd48f" stroke-width="1.0"/>
<path d="M625.00,361.92 L625.00,392.50" stroke="#ffd48f" stroke-width="1.0"/>
<path d="M629.55,359.81 L629.55,391.68" stroke="#ffd48f" stroke-width="1.0"/>
<path d="M634.09,357.31 L634.09,391.22" stroke="#ffd48f" stroke-width="1.0"/>
<path d="M638.63,354.70 L638.63,390.73" stroke="#ffd48f" stroke-width="1.0"/>
<path d="M643.18,352.08 L643.18,390.23" stroke="#ffd48f" stroke-width="1.0"/>
<path d="M647.73,349.79 L647.73,389.18" stroke="#ffd48f" stroke-width="1.0"/>
<path d="M652.27,347.71 L652.27,387.74" stroke="#ffd48f" stroke-width="1.0"/>
<path d="M656.82,345.56 L656.82,386.24" stroke="#ffd48f" stroke-width="1.0"/>
<path d="M661.36,343.35 L661.36,384.69" stroke="#ffd48f" stroke-width="1.0"/>
<path d="M665.90,339.81 L665.90,381.79" stroke="#ffd48f" stroke-width="1.0"/>
<circle cx="352.30" cy="456.00" r="4.4" fill="#ffa500" fill-opacity="0.5" stroke="#000" stroke-opacity="0.55" stroke-width="0.75"/>
<circle cx="356.85" cy="455.99" r="4.4" fill="#ffa500" fill-opacity="0.5" stroke="#000" stroke-opacity="0.55" stroke-width="0.75"/>
<circle cx="361.39" cy="455.98" r="4.4" fill="#ffa500" fill-opacity="0.5" stroke="#000" stroke-opacity="0.55" stroke-width="0.75"/>
<circle cx="365.94" cy="455.97" r="4.4" fill="#ffa500" fill-opacity="0.5" stroke="#000" stroke-opacity="0.55" stroke-width="0.75"/>
<circle cx="370.48" cy="455.96" r="4.4" fill="#ffa500" fill-opacity="0.5" stroke="#000" stroke-opacity="0.55" stroke-width="0.75"/>
<circle cx="375.03" cy="455.95" r="4.4" fill="#ffa500" fill-opacity="0.5" stroke="#000" stroke-opacity="0.55" stroke-width="0.75"/>
<circle cx="379.57" cy="455.94" r="4.4" fill="#ffa500" fill-opacity="0.5" stroke="#000" stroke-opacity="0.55" stroke-width="0.75"/>
<circle cx="384.12" cy="455.93" r="4.4" fill="#ffa500" fill-opacity="0.5" stroke="#000" stroke-opacity="0.55" stroke-width="0.75"/>
<circle cx="388.66" cy="455.92" r="4.4" fill="#ffa500" fill-opacity="0.5" stroke="#000" stroke-opacity="0.55" stroke-width="0.75"/>
<circle cx="393.21" cy="455.91" r="4.4" fill="#ffa500" fill-opacity="0.5" stroke="#000" stroke-opacity="0.55" stroke-width="0.75"/>
<circle cx="397.75" cy="455.90" r="4.4" fill="#ffa500" fill-opacity="0.5" stroke="#000" stroke-opacity="0.55" stroke-width="0.75"/>
<circle cx="402.30" cy="455.89" r="4.4" fill="#ffa500" fill-opacity="0.5" stroke="#000" stroke-opacity="0.55" stroke-width="0.75"/>
<circle cx="406.84" cy="455.88" r="4.4" fill="#ffa500" fill-opacity="0.5" stroke="#000" stroke-opacity="0.55" stroke-width="0.75"/>
<circle cx="411.38" cy="455.87" r="4.4" fill="#ffa500" fill-opacity="0.5" stroke="#000" stroke-opacity="0.55" stroke-width="0.75"/>
<circle cx="415.93" cy="455.85" r="4.4" fill="#ffa500" fill-opacity="0.5" stroke="#000" stroke-opacity="0.55" stroke-width="0.75"/>
<circle cx="420.48" cy="455.84" r="4.4" fill="#ffa500" fill-opacity="0.5" stroke="#000" stroke-opacity="0.55" stroke-width="0.75"/>
<circle cx="425.02" cy="455.83" r="4.4" fill="#ffa500" fill-opacity="0.5" stroke="#000" stroke-opacity="0.55" stroke-width="0.75"/>
<circle cx="429.56" cy="455.82" r="4.4" fill="#ffa500" fill-opacity="0.5" stroke="#000" stroke-opacity="0.55" stroke-width="0.75"/>
<circle cx="434.11" cy="455.81" r="4.4" fill="#ffa500" fill-opacity="0.5" stroke="#000" stroke-opacity="0.55" stroke-width="0.75"/>
<circle cx="438.66" cy="455.80" r="4.4" fill="#ffa500" fill-opacity="0.5" stroke="#000" stroke-opacity="0.55" stroke-width="0.75"/>
<circle cx="443.20" cy="455.72" r="4.4" fill="#ffa500" fill-opacity="0.5" stroke="#000" stroke-opacity="0.55" stroke-width="0.75"/>
<circle cx="447.75" cy="455.61" r="4.4" fill="#ffa500" fill-opacity="0.5" stroke="#000" stroke-opacity="0.55" stroke-width="0.75"/>
<circle cx="452.29" cy="455.49" r="4.4" fill="#ffa500" fill-opacity="0.5" stroke="#000" stroke-opacity="0.55" stroke-width="0.75"/>
<circle cx="456.84" cy="455.29" r="4.4" fill="#ffa500" fill-opacity="0.5" stroke="#000" stroke-opacity="0.55" stroke-width="0.75"/>
<circle cx="461.38" cy="455.09" r="4.4" fill="#ffa500" fill-opacity="0.5" stroke="#000" stroke-opacity="0.55" stroke-width="0.75"/>
<circle cx="465.93" cy="454.63" r="4.4" fill="#ffa500" fill-opacity="0.5" stroke="#000" stroke-opacity="0.55" stroke-width="0.75"/>
<circle cx="470.47" cy="453.96" r="4.4" fill="#ffa500" fill-opacity="0.5" stroke="#000" stroke-opacity="0.55" stroke-width="0.75"/>
<circle cx="475.01" cy="453.30" r="4.4" fill="#ffa500" fill-opacity="0.5" stroke="#000" stroke-opacity="0.55" stroke-width="0.75"/>
<circle cx="479.56" cy="452.79" r="4.4" fill="#ffa500" fill-opacity="0.5" stroke="#000" stroke-opacity="0.55" stroke-width="0.75"/>
<circle cx="484.11" cy="452.29" r="4.4" fill="#ffa500" fill-opacity="0.5" stroke="#000" stroke-opacity="0.55" stroke-width="0.75"/>
<circle cx="488.65" cy="451.33" r="4.4" fill="#ffa500" fill-opacity="0.5" stroke="#000" stroke-opacity="0.55" stroke-width="0.75"/>
<circle cx="493.20" cy="449.78" r="4.4" fill="#ffa500" fill-opacity="0.5" stroke="#000" stroke-opacity="0.55" stroke-width="0.75"/>
<circle cx="497.74" cy="448.23" r="4.4" fill="#ffa500" fill-opacity="0.5" stroke="#000" stroke-opacity="0.55" stroke-width="0.75"/>
<circle cx="502.28" cy="446.00" r="4.4" fill="#ffa500" fill-opacity="0.5" stroke="#000" stroke-opacity="0.55" stroke-width="0.75"/>
<circle cx="506.83" cy="443.45" r="4.4" fill="#ffa500" fill-opacity="0.5" stroke="#000" stroke-opacity="0.55" stroke-width="0.75"/>
<circle cx="511.38" cy="440.71" r="4.4" fill="#ffa500" fill-opacity="0.5" stroke="#000" stroke-opacity="0.55" stroke-width="0.75"/>
<circle cx="515.92" cy="438.27" r="4.4" fill="#ffa500" fill-opacity="0.5" stroke="#000" stroke-opacity="0.55" stroke-width="0.75"/>
<circle cx="520.47" cy="435.74" r="4.4" fill="#ffa500" fill-opacity="0.5" stroke="#000" stroke-opacity="0.55" stroke-width="0.75"/>
<circle cx="525.01" cy="432.91" r="4.4" fill="#ffa500" fill-opacity="0.5" stroke="#000" stroke-opacity="0.55" stroke-width="0.75"/>
<circle cx="529.56" cy="430.06" r="4.4" fill="#ffa500" fill-opacity="0.5" stroke="#000" stroke-opacity="0.55" stroke-width="0.75"/>
<circle cx="534.10" cy="427.16" r="4.4" fill="#ffa500" fill-opacity="0.5" stroke="#000" stroke-opacity="0.55" stroke-width="0.75"/>
<circle cx="538.64" cy="424.26" r="4.4" fill="#ffa500" fill-opacity="0.5" stroke="#000" stroke-opacity="0.55" stroke-width="0.75"/>
<circle cx="543.19" cy="421.93" r="4.4" fill="#ffa500" fill-opacity="0.5" stroke="#000" stroke-opacity="0.55" stroke-width="0.75"/>
<circle cx="547.74" cy="419.83" r="4.4" fill="#ffa500" fill-opacity="0.5" stroke="#000" stroke-opacity="0.55" stroke-width="0.75"/>
<circle cx="552.28" cy="417.69" r="4.4" fill="#ffa500" fill-opacity="0.5" stroke="#000" stroke-opacity="0.55" stroke-width="0.75"/>
<circle cx="556.83" cy="415.28" r="4.4" fill="#ffa500" fill-opacity="0.5" stroke="#000" stroke-opacity="0.55" stroke-width="0.75"/>
<circle cx="561.37" cy="412.88" r="4.4" fill="#ffa500" fill-opacity="0.5" stroke="#000" stroke-opacity="0.55" stroke-width="0.75"/>
<circle cx="565.91" cy="410.24" r="4.4" fill="#ffa500" fill-opacity="0.5" stroke="#000" stroke-opacity="0.55" stroke-width="0.75"/>
<circle cx="570.46" cy="407.42" r="4.4" fill="#ffa500" fill-opacity="0.5" stroke="#000" stroke-opacity="0.55" stroke-width="0.75"/>
<circle cx="575.00" cy="404.60" r="4.4" fill="#ffa500" fill-opacity="0.5" stroke="#000" stroke-opacity="0.55" stroke-width="0.75"/>
<circle cx="579.55" cy="402.03" r="4.4" fill="#ffa500" fill-opacity="0.5" stroke="#000" stroke-opacity="0.55" stroke-width="0.75"/>
<circle cx="584.10" cy="399.47" r="4.4" fill="#ffa500" fill-opacity="0.5" stroke="#000" stroke-opacity="0.55" stroke-width="0.75"/>
<circle cx="588.64" cy="396.84" r="4.4" fill="#ffa500" fill-opacity="0.5" stroke="#000" stroke-opacity="0.55" stroke-width="0.75"/>
<circle cx="593.18" cy="394.12" r="4.4" fill="#ffa500" fill-opacity="0.5" stroke="#000" stroke-opacity="0.55" stroke-width="0.75"/>
<circle cx="597.73" cy="391.40" r="4.4" fill="#ffa500" fill-opacity="0.5" stroke="#000" stroke-opacity="0.55" stroke-width="0.75"/>
<circle cx="602.27" cy="387.75" r="4.4" fill="#ffa500" fill-opacity="0.5" stroke="#000" stroke-opacity="0.55" stroke-width="0.75"/>
<circle cx="606.82" cy="383.94" r="4.4" fill="#ffa500" fill-opacity="0.5" stroke="#000" stroke-opacity="0.55" stroke-width="0.75"/>
<circle cx="611.37" cy="381.99" r="4.4" fill="#ffa500" fill-opacity="0.5" stroke="#000" stroke-opacity="0.55" stroke-width="0.75"/>
<circle cx="615.91" cy="380.50" r="4.4" fill="#ffa500" fill-opacity="0.5" stroke="#000" stroke-opacity="0.55" stroke-width="0.75"/>
<circle cx="620.45" cy="378.83" r="4.4" fill="#ffa500" fill-opacity="0.5" stroke="#000" stroke-opacity="0.55" stroke-width="0.75"/>
<circle cx="625.00" cy="377.21" r="4.4" fill="#ffa500" fill-opacity="0.5" stroke="#000" stroke-opacity="0.55" stroke-width="0.75"/>
<circle cx="629.55" cy="375.74" r="4.4" fill="#ffa500" fill-opacity="0.5" stroke="#000" stroke-opacity="0.55" stroke-width="0.75"/>
<circle cx="634.09" cy="374.26" r="4.4" fill="#ffa500" fill-opacity="0.5" stroke="#000" stroke-opacity="0.55" stroke-width="0.75"/>
<circle cx="638.63" cy="372.71" r="4.4" fill="#ffa500" fill-opacity="0.5" stroke="#000" stroke-opacity="0.55" stroke-width="0.75"/>
<circle cx="643.18" cy="371.16" r="4.4" fill="#ffa500" fill-opacity="0.5" stroke="#000" stroke-opacity="0.55" stroke-width="0.75"/>
<circle cx="647.73" cy="369.48" r="4.4" fill="#ffa500" fill-opacity="0.5" stroke="#000" stroke-opacity="0.55" stroke-width="0.75"/>
<circle cx="652.27" cy="367.72" r="4.4" fill="#ffa500" fill-opacity="0.5" stroke="#000" stroke-opacity="0.55" stroke-width="0.75"/>
<circle cx="656.82" cy="365.90" r="4.4" fill="#ffa500" fill-opacity="0.5" stroke="#000" stroke-opacity="0.55" stroke-width="0.75"/>
<circle cx="661.36" cy="364.02" r="4.4" fill="#ffa500" fill-opacity="0.5" stroke="#000" stroke-opacity="0.55" stroke-width="0.75"/>
<circle cx="665.90" cy="360.80" r="4.4" fill="#ffa500" fill-opacity="0.5" stroke="#000" stroke-opacity="0.55" stroke-width="0.75"/>
<circle cx="352.30" cy="458.30" r="4.4" fill="#ff0000" fill-opacity="0.45" stroke="#000" stroke-opacity="0.5" stroke-width="0.75"/>
<circle cx="356.85" cy="458.30" r="4.4" fill="#ff0000" fill-opacity="0.45" stroke="#000" stroke-opacity="0.5" stroke-width="0.75"/>
<circle cx="361.39" cy="458.30" r="4.4" fill="#ff0000" fill-opacity="0.45" stroke="#000" stroke-opacity="0.5" stroke-width="0.75"/>
<circle cx="365.94" cy="458.30" r="4.4" fill="#ff0000" fill-opacity="0.45" stroke="#000" stroke-opacity="0.5" stroke-width="0.75"/>
<circle cx="370.48" cy="458.30" r="4.4" fill="#ff0000" fill-opacity="0.45" stroke="#000" stroke-opacity="0.5" stroke-width="0.75"/>
<circle cx="375.03" cy="458.30" r="4.4" fill="#ff0000" fill-opacity="0.45" stroke="#000" stroke-opacity="0.5" stroke-width="0.75"/>
<circle cx="379.57" cy="458.30" r="4.4" fill="#ff0000" fill-opacity="0.45" stroke="#000" stroke-opacity="0.5" stroke-width="0.75"/>
<circle cx="384.12" cy="458.30" r="4.4" fill="#ff0000" fill-opacity="0.45" stroke="#000" stroke-opacity="0.5" stroke-width="0.75"/>
<circle cx="388.66" cy="458.30" r="4.4" fill="#ff0000" fill-opacity="0.45" stroke="#000" stroke-opacity="0.5" stroke-width="0.75"/>
<circle cx="393.21" cy="458.30" r="4.4" fill="#ff0000" fill-opacity="0.45" stroke="#000" stroke-opacity="0.5" stroke-width="0.75"/>
<circle cx="397.75" cy="458.30" r="4.4" fill="#ff0000" fill-opacity="0.45" stroke="#000" stroke-opacity="0.5" stroke-width="0.75"/>
<circle cx="402.30" cy="458.30" r="4.4" fill="#ff0000" fill-opacity="0.45" stroke="#000" stroke-opacity="0.5" stroke-width="0.75"/>
<circle cx="406.84" cy="458.30" r="4.4" fill="#ff0000" fill-opacity="0.45" stroke="#000" stroke-opacity="0.5" stroke-width="0.75"/>
<circle cx="411.38" cy="458.30" r="4.4" fill="#ff0000" fill-opacity="0.45" stroke="#000" stroke-opacity="0.5" stroke-width="0.75"/>
<circle cx="415.93" cy="458.30" r="4.4" fill="#ff0000" fill-opacity="0.45" stroke="#000" stroke-opacity="0.5" stroke-width="0.75"/>
<circle cx="420.48" cy="458.30" r="4.4" fill="#ff0000" fill-opacity="0.45" stroke="#000" stroke-opacity="0.5" stroke-width="0.75"/>
<circle cx="425.02" cy="458.30" r="4.4" fill="#ff0000" fill-opacity="0.45" stroke="#000" stroke-opacity="0.5" stroke-width="0.75"/>
<circle cx="429.56" cy="458.30" r="4.4" fill="#ff0000" fill-opacity="0.45" stroke="#000" stroke-opacity="0.5" stroke-width="0.75"/>
<circle cx="434.11" cy="458.30" r="4.4" fill="#ff0000" fill-opacity="0.45" stroke="#000" stroke-opacity="0.5" stroke-width="0.75"/>
<circle cx="438.66" cy="458.30" r="4.4" fill="#ff0000" fill-opacity="0.45" stroke="#000" stroke-opacity="0.5" stroke-width="0.75"/>
<circle cx="443.20" cy="458.30" r="4.4" fill="#ff0000" fill-opacity="0.45" stroke="#000" stroke-opacity="0.5" stroke-width="0.75"/>
<circle cx="447.75" cy="458.30" r="4.4" fill="#ff0000" fill-opacity="0.45" stroke="#000" stroke-opacity="0.5" stroke-width="0.75"/>
<circle cx="452.29" cy="458.30" r="4.4" fill="#ff0000" fill-opacity="0.45" stroke="#000" stroke-opacity="0.5" stroke-width="0.75"/>
<circle cx="456.84" cy="458.30" r="4.4" fill="#ff0000" fill-opacity="0.45" stroke="#000" stroke-opacity="0.5" stroke-width="0.75"/>
<circle cx="461.38" cy="458.30" r="4.4" fill="#ff0000" fill-opacity="0.45" stroke="#000" stroke-opacity="0.5" stroke-width="0.75"/>
<circle cx="465.93" cy="458.30" r="4.4" fill="#ff0000" fill-opacity="0.45" stroke="#000" stroke-opacity="0.5" stroke-width="0.75"/>
<circle cx="470.47" cy="458.30" r="4.4" fill="#ff0000" fill-opacity="0.45" stroke="#000" stroke-opacity="0.5" stroke-width="0.75"/>
<circle cx="475.01" cy="458.30" r="4.4" fill="#ff0000" fill-opacity="0.45" stroke="#000" stroke-opacity="0.5" stroke-width="0.75"/>
<circle cx="479.56" cy="458.30" r="4.4" fill="#ff0000" fill-opacity="0.45" stroke="#000" stroke-opacity="0.5" stroke-width="0.75"/>
<circle cx="484.11" cy="458.30" r="4.4" fill="#ff0000" fill-opacity="0.45" stroke="#000" stroke-opacity="0.5" stroke-width="0.75"/>
<circle cx="488.65" cy="458.30" r="4.4" fill="#ff0000" fill-opacity="0.45" stroke="#000" stroke-opacity="0.5" stroke-width="0.75"/>
<circle cx="493.20" cy="458.30" r="4.4" fill="#ff0000" fill-opacity="0.45" stroke="#000" stroke-opacity="0.5" stroke-width="0.75"/>
<circle cx="497.74" cy="458.30" r="4.4" fill="#ff0000" fill-opacity="0.45" stroke="#000" stroke-opacity="0.5" stroke-width="0.75"/>
<circle cx="502.28" cy="458.30" r="4.4" fill="#ff0000" fill-opacity="0.45" stroke="#000" stroke-opacity="0.5" stroke-width="0.75"/>
<circle cx="506.83" cy="458.30" r="4.4" fill="#ff0000" fill-opacity="0.45" stroke="#000" stroke-opacity="0.5" stroke-width="0.75"/>
<circle cx="511.38" cy="458.30" r="4.4" fill="#ff0000" fill-opacity="0.45" stroke="#000" stroke-opacity="0.5" stroke-width="0.75"/>
<circle cx="515.92" cy="458.30" r="4.4" fill="#ff0000" fill-opacity="0.45" stroke="#000" stroke-opacity="0.5" stroke-width="0.75"/>
<circle cx="520.47" cy="458.30" r="4.4" fill="#ff0000" fill-opacity="0.45" stroke="#000" stroke-opacity="0.5" stroke-width="0.75"/>
<circle cx="525.01" cy="458.30" r="4.4" fill="#ff0000" fill-opacity="0.45" stroke="#000" stroke-opacity="0.5" stroke-width="0.75"/>
<circle cx="529.56" cy="458.30" r="4.4" fill="#ff0000" fill-opacity="0.45" stroke="#000" stroke-opacity="0.5" stroke-width="0.75"/>
<circle cx="534.10" cy="458.30" r="4.4" fill="#ff0000" fill-opacity="0.45" stroke="#000" stroke-opacity="0.5" stroke-width="0.75"/>
<circle cx="538.64" cy="458.30" r="4.4" fill="#ff0000" fill-opacity="0.45" stroke="#000" stroke-opacity="0.5" stroke-width="0.75"/>
<circle cx="543.19" cy="458.30" r="4.4" fill="#ff0000" fill-opacity="0.45" stroke="#000" stroke-opacity="0.5" stroke-width="0.75"/>
<circle cx="547.74" cy="458.30" r="4.4" fill="#ff0000" fill-opacity="0.45" stroke="#000" stroke-opacity="0.5" stroke-width="0.75"/>
<circle cx="552.28" cy="458.30" r="4.4" fill="#ff0000" fill-opacity="0.45" stroke="#000" stroke-opacity="0.5" stroke-width="0.75"/>
<circle cx="556.83" cy="458.30" r="4.4" fill="#ff0000" fill-opacity="0.45" stroke="#000" stroke-opacity="0.5" stroke-width="0.75"/>
<circle cx="561.37" cy="458.30" r="4.4" fill="#ff0000" fill-opacity="0.45" stroke="#000" stroke-opacity="0.5" stroke-width="0.75"/>
<circle cx="565.91" cy="458.30" r="4.4" fill="#ff0000" fill-opacity="0.45" stroke="#000" stroke-opacity="0.5" stroke-width="0.75"/>
<circle cx="570.46" cy="458.30" r="4.4" fill="#ff0000" fill-opacity="0.45" stroke="#000" stroke-opacity="0.5" stroke-width="0.75"/>
<circle cx="575.00" cy="458.30" r="4.4" fill="#ff0000" fill-opacity="0.45" stroke="#000" stroke-opacity="0.5" stroke-width="0.75"/>
<circle cx="579.55" cy="458.30" r="4.4" fill="#ff0000" fill-opacity="0.45" stroke="#000" stroke-opacity="0.5" stroke-width="0.75"/>
<circle cx="584.10" cy="458.30" r="4.4" fill="#ff0000" fill-opacity="0.45" stroke="#000" stroke-opacity="0.5" stroke-width="0.75"/>
<circle cx="588.64" cy="458.30" r="4.4" fill="#ff0000" fill-opacity="0.45" stroke="#000" stroke-opacity="0.5" stroke-width="0.75"/>
<circle cx="593.18" cy="458.30" r="4.4" fill="#ff0000" fill-opacity="0.45" stroke="#000" stroke-opacity="0.5" stroke-width="0.75"/>
<circle cx="597.73" cy="458.30" r="4.4" fill="#ff0000" fill-opacity="0.45" stroke="#000" stroke-opacity="0.5" stroke-width="0.75"/>
<circle cx="602.27" cy="458.30" r="4.4" fill="#ff0000" fill-opacity="0.45" stroke="#000" stroke-opacity="0.5" stroke-width="0.75"/>
<circle cx="606.82" cy="458.60" r="4.4" fill="#ff0000" fill-opacity="0.45" stroke="#000" stroke-opacity="0.5" stroke-width="0.75"/>
<circle cx="611.37" cy="459.23" r="4.4" fill="#ff0000" fill-opacity="0.45" stroke="#000" stroke-opacity="0.5" stroke-width="0.75"/>
<circle cx="615.91" cy="458.32" r="4.4" fill="#ff0000" fill-opacity="0.45" stroke="#000" stroke-opacity="0.5" stroke-width="0.75"/>
<circle cx="620.45" cy="458.30" r="4.4" fill="#ff0000" fill-opacity="0.45" stroke="#000" stroke-opacity="0.5" stroke-width="0.75"/>
<circle cx="625.00" cy="458.30" r="4.4" fill="#ff0000" fill-opacity="0.45" stroke="#000" stroke-opacity="0.5" stroke-width="0.75"/>
<circle cx="629.55" cy="458.30" r="4.4" fill="#ff0000" fill-opacity="0.45" stroke="#000" stroke-opacity="0.5" stroke-width="0.75"/>
<circle cx="634.09" cy="458.30" r="4.4" fill="#ff0000" fill-opacity="0.45" stroke="#000" stroke-opacity="0.5" stroke-width="0.75"/>
<circle cx="638.63" cy="458.30" r="4.4" fill="#ff0000" fill-opacity="0.45" stroke="#000" stroke-opacity="0.5" stroke-width="0.75"/>
<circle cx="643.18" cy="458.30" r="4.4" fill="#ff0000" fill-opacity="0.45" stroke="#000" stroke-opacity="0.5" stroke-width="0.75"/>
<circle cx="647.73" cy="458.30" r="4.4" fill="#ff0000" fill-opacity="0.45" stroke="#000" stroke-opacity="0.5" stroke-width="0.75"/>
<circle cx="652.27" cy="458.30" r="4.4" fill="#ff0000" fill-opacity="0.45" stroke="#000" stroke-opacity="0.5" stroke-width="0.75"/>
<circle cx="656.82" cy="458.30" r="4.4" fill="#ff0000" fill-opacity="0.45" stroke="#000" stroke-opacity="0.5" stroke-width="0.75"/>
<circle cx="661.36" cy="458.30" r="4.4" fill="#ff0000" fill-opacity="0.45" stroke="#000" stroke-opacity="0.5" stroke-width="0.75"/>
<circle cx="665.90" cy="458.30" r="4.4" fill="#ff0000" fill-opacity="0.45" stroke="#000" stroke-opacity="0.5" stroke-width="0.75"/>
<circle cx="352.30" cy="457.00" r="4.4" fill="#000" fill-opacity="0.45" stroke="#000" stroke-opacity="0.5" stroke-width="0.75"/>
<circle cx="356.85" cy="457.00" r="4.4" fill="#000" fill-opacity="0.45" stroke="#000" stroke-opacity="0.5" stroke-width="0.75"/>
<circle cx="361.39" cy="457.00" r="4.4" fill="#000" fill-opacity="0.45" stroke="#000" stroke-opacity="0.5" stroke-width="0.75"/>
<circle cx="365.94" cy="457.00" r="4.4" fill="#000" fill-opacity="0.45" stroke="#000" stroke-opacity="0.5" stroke-width="0.75"/>
<circle cx="370.48" cy="457.00" r="4.4" fill="#000" fill-opacity="0.45" stroke="#000" stroke-opacity="0.5" stroke-width="0.75"/>
<circle cx="375.03" cy="457.00" r="4.4" fill="#000" fill-opacity="0.45" stroke="#000" stroke-opacity="0.5" stroke-width="0.75"/>
<circle cx="379.57" cy="457.00" r="4.4" fill="#000" fill-opacity="0.45" stroke="#000" stroke-opacity="0.5" stroke-width="0.75"/>
<circle cx="384.12" cy="457.00" r="4.4" fill="#000" fill-opacity="0.45" stroke="#000" stroke-opacity="0.5" stroke-width="0.75"/>
<circle cx="388.66" cy="457.00" r="4.4" fill="#000" fill-opacity="0.45" stroke="#000" stroke-opacity="0.5" stroke-width="0.75"/>
<circle cx="393.21" cy="457.00" r="4.4" fill="#000" fill-opacity="0.45" stroke="#000" stroke-opacity="0.5" stroke-width="0.75"/>
<circle cx="397.75" cy="457.00" r="4.4" fill="#000" fill-opacity="0.45" stroke="#000" stroke-opacity="0.5" stroke-width="0.75"/>
<circle cx="402.30" cy="457.00" r="4.4" fill="#000" fill-opacity="0.45" stroke="#000" stroke-opacity="0.5" stroke-width="0.75"/>
<circle cx="406.84" cy="457.00" r="4.4" fill="#000" fill-opacity="0.45" stroke="#000" stroke-opacity="0.5" stroke-width="0.75"/>
<circle cx="411.38" cy="457.00" r="4.4" fill="#000" fill-opacity="0.45" stroke="#000" stroke-opacity="0.5" stroke-width="0.75"/>
<circle cx="415.93" cy="457.00" r="4.4" fill="#000" fill-opacity="0.45" stroke="#000" stroke-opacity="0.5" stroke-width="0.75"/>
<circle cx="420.48" cy="457.00" r="4.4" fill="#000" fill-opacity="0.45" stroke="#000" stroke-opacity="0.5" stroke-width="0.75"/>
<circle cx="425.02" cy="457.00" r="4.4" fill="#000" fill-opacity="0.45" stroke="#000" stroke-opacity="0.5" stroke-width="0.75"/>
<circle cx="429.56" cy="457.00" r="4.4" fill="#000" fill-opacity="0.45" stroke="#000" stroke-opacity="0.5" stroke-width="0.75"/>
<circle cx="434.11" cy="457.00" r="4.4" fill="#000" fill-opacity="0.45" stroke="#000" stroke-opacity="0.5" stroke-width="0.75"/>
<circle cx="438.66" cy="457.00" r="4.4" fill="#000" fill-opacity="0.45" stroke="#000" stroke-opacity="0.5" stroke-width="0.75"/>
<circle cx="443.20" cy="457.00" r="4.4" fill="#000" fill-opacity="0.45" stroke="#000" stroke-opacity="0.5" stroke-width="0.75"/>
<circle cx="447.75" cy="457.00" r="4.4" fill="#000" fill-opacity="0.45" stroke="#000" stroke-opacity="0.5" stroke-width="0.75"/>
<circle cx="452.29" cy="457.00" r="4.4" fill="#000" fill-opacity="0.45" stroke="#000" stroke-opacity="0.5" stroke-width="0.75"/>
<circle cx="456.84" cy="457.00" r="4.4" fill="#000" fill-opacity="0.45" stroke="#000" stroke-opacity="0.5" stroke-width="0.75"/>
<circle cx="461.38" cy="457.00" r="4.4" fill="#000" fill-opacity="0.45" stroke="#000" stroke-opacity="0.5" stroke-width="0.75"/>
<circle cx="465.93" cy="457.00" r="4.4" fill="#000" fill-opacity="0.45" stroke="#000" stroke-opacity="0.5" stroke-width="0.75"/>
<circle cx="470.47" cy="457.00" r="4.4" fill="#000" fill-opacity="0.45" stroke="#000" stroke-opacity="0.5" stroke-width="0.75"/>
<circle cx="475.01" cy="457.00" r="4.4" fill="#000" fill-opacity="0.45" stroke="#000" stroke-opacity="0.5" stroke-width="0.75"/>
<circle cx="479.56" cy="457.00" r="4.4" fill="#000" fill-opacity="0.45" stroke="#000" stroke-opacity="0.5" stroke-width="0.75"/>
<circle cx="484.11" cy="457.00" r="4.4" fill="#000" fill-opacity="0.45" stroke="#000" stroke-opacity="0.5" stroke-width="0.75"/>
<circle cx="488.65" cy="457.00" r="4.4" fill="#000" fill-opacity="0.45" stroke="#000" stroke-opacity="0.5" stroke-width="0.75"/>
<circle cx="493.20" cy="457.00" r="4.4" fill="#000" fill-opacity="0.45" stroke="#000" stroke-opacity="0.5" stroke-width="0.75"/>
<circle cx="497.74" cy="457.00" r="4.4" fill="#000" fill-opacity="0.45" stroke="#000" stroke-opacity="0.5" stroke-width="0.75"/>
<circle cx="502.28" cy="457.00" r="4.4" fill="#000" fill-opacity="0.45" stroke="#000" stroke-opacity="0.5" stroke-width="0.75"/>
<circle cx="506.83" cy="457.00" r="4.4" fill="#000" fill-opacity="0.45" stroke="#000" stroke-opacity="0.5" stroke-width="0.75"/>
<circle cx="511.38" cy="457.00" r="4.4" fill="#000" fill-opacity="0.45" stroke="#000" stroke-opacity="0.5" stroke-width="0.75"/>
<circle cx="515.92" cy="457.00" r="4.4" fill="#000" fill-opacity="0.45" stroke="#000" stroke-opacity="0.5" stroke-width="0.75"/>
<circle cx="520.47" cy="457.00" r="4.4" fill="#000" fill-opacity="0.45" stroke="#000" stroke-opacity="0.5" stroke-width="0.75"/>
<circle cx="525.01" cy="457.00" r="4.4" fill="#000" fill-opacity="0.45" stroke="#000" stroke-opacity="0.5" stroke-width="0.75"/>
<circle cx="529.56" cy="457.00" r="4.4" fill="#000" fill-opacity="0.45" stroke="#000" stroke-opacity="0.5" stroke-width="0.75"/>
<circle cx="534.10" cy="457.00" r="4.4" fill="#000" fill-opacity="0.45" stroke="#000" stroke-opacity="0.5" stroke-width="0.75"/>
<circle cx="538.64" cy="457.00" r="4.4" fill="#000" fill-opacity="0.45" stroke="#000" stroke-opacity="0.5" stroke-width="0.75"/>
<circle cx="543.19" cy="457.00" r="4.4" fill="#000" fill-opacity="0.45" stroke="#000" stroke-opacity="0.5" stroke-width="0.75"/>
<circle cx="547.74" cy="457.00" r="4.4" fill="#000" fill-opacity="0.45" stroke="#000" stroke-opacity="0.5" stroke-width="0.75"/>
<circle cx="552.28" cy="457.00" r="4.4" fill="#000" fill-opacity="0.45" stroke="#000" stroke-opacity="0.5" stroke-width="0.75"/>
<circle cx="556.83" cy="457.00" r="4.4" fill="#000" fill-opacity="0.45" stroke="#000" stroke-opacity="0.5" stroke-width="0.75"/>
<circle cx="561.37" cy="457.00" r="4.4" fill="#000" fill-opacity="0.45" stroke="#000" stroke-opacity="0.5" stroke-width="0.75"/>
<circle cx="565.91" cy="457.00" r="4.4" fill="#000" fill-opacity="0.45" stroke="#000" stroke-opacity="0.5" stroke-width="0.75"/>
<circle cx="570.46" cy="457.00" r="4.4" fill="#000" fill-opacity="0.45" stroke="#000" stroke-opacity="0.5" stroke-width="0.75"/>
<circle cx="575.00" cy="457.00" r="4.4" fill="#000" fill-opacity="0.45" stroke="#000" stroke-opacity="0.5" stroke-width="0.75"/>
<circle cx="579.55" cy="457.00" r="4.4" fill="#000" fill-opacity="0.45" stroke="#000" stroke-opacity="0.5" stroke-width="0.75"/>
<circle cx="584.10" cy="457.00" r="4.4" fill="#000" fill-opacity="0.45" stroke="#000" stroke-opacity="0.5" stroke-width="0.75"/>
<circle cx="588.64" cy="457.00" r="4.4" fill="#000" fill-opacity="0.45" stroke="#000" stroke-opacity="0.5" stroke-width="0.75"/>
<circle cx="593.18" cy="457.00" r="4.4" fill="#000" fill-opacity="0.45" stroke="#000" stroke-opacity="0.5" stroke-width="0.75"/>
<circle cx="597.73" cy="457.00" r="4.4" fill="#000" fill-opacity="0.45" stroke="#000" stroke-opacity="0.5" stroke-width="0.75"/>
<circle cx="602.27" cy="457.00" r="4.4" fill="#000" fill-opacity="0.45" stroke="#000" stroke-opacity="0.5" stroke-width="0.75"/>
<circle cx="606.82" cy="456.55" r="4.4" fill="#000" fill-opacity="0.45" stroke="#000" stroke-opacity="0.5" stroke-width="0.75"/>
<circle cx="611.37" cy="455.59" r="4.4" fill="#000" fill-opacity="0.45" stroke="#000" stroke-opacity="0.5" stroke-width="0.75"/>
<circle cx="615.91" cy="456.73" r="4.4" fill="#000" fill-opacity="0.45" stroke="#000" stroke-opacity="0.5" stroke-width="0.75"/>
<circle cx="620.45" cy="457.00" r="4.4" fill="#000" fill-opacity="0.45" stroke="#000" stroke-opacity="0.5" stroke-width="0.75"/>
<circle cx="625.00" cy="457.00" r="4.4" fill="#000" fill-opacity="0.45" stroke="#000" stroke-opacity="0.5" stroke-width="0.75"/>
<circle cx="629.55" cy="456.57" r="4.4" fill="#000" fill-opacity="0.45" stroke="#000" stroke-opacity="0.5" stroke-width="0.75"/>
<circle cx="634.09" cy="455.91" r="4.4" fill="#000" fill-opacity="0.45" stroke="#000" stroke-opacity="0.5" stroke-width="0.75"/>
<circle cx="638.63" cy="456.99" r="4.4" fill="#000" fill-opacity="0.45" stroke="#000" stroke-opacity="0.5" stroke-width="0.75"/>
<circle cx="643.18" cy="456.93" r="4.4" fill="#000" fill-opacity="0.45" stroke="#000" stroke-opacity="0.5" stroke-width="0.75"/>
<circle cx="647.73" cy="456.86" r="4.4" fill="#000" fill-opacity="0.45" stroke="#000" stroke-opacity="0.5" stroke-width="0.75"/>
<circle cx="652.27" cy="456.72" r="4.4" fill="#000" fill-opacity="0.45" stroke="#000" stroke-opacity="0.5" stroke-width="0.75"/>
<circle cx="656.82" cy="455.36" r="4.4" fill="#000" fill-opacity="0.45" stroke="#000" stroke-opacity="0.5" stroke-width="0.75"/>
<circle cx="661.36" cy="455.30" r="4.4" fill="#000" fill-opacity="0.45" stroke="#000" stroke-opacity="0.5" stroke-width="0.75"/>
<circle cx="665.90" cy="455.98" r="4.4" fill="#000" fill-opacity="0.45" stroke="#000" stroke-opacity="0.5" stroke-width="0.75"/>
</svg></body></html>
